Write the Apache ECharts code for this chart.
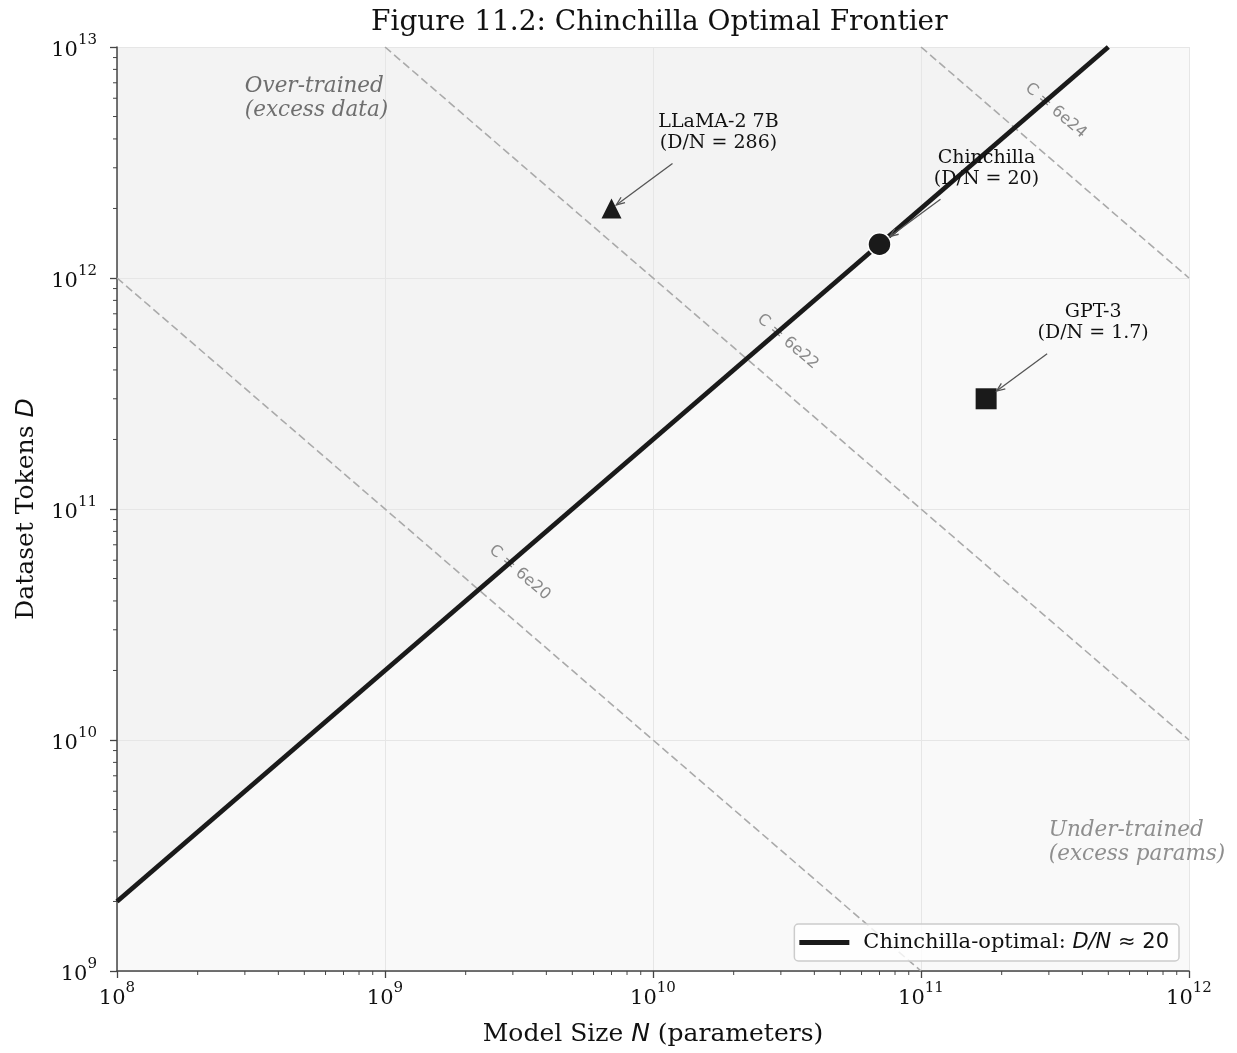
<!DOCTYPE html>
<html>
<head>
<meta charset="utf-8">
<script src="https://cdn.jsdelivr.net/npm/echarts@6/dist/echarts.min.js"></script>
<style>
  html, body { margin: 0; padding: 0; background: #fff; }
  #chart { width: 1237px; height: 1053px; }
</style>
</head>
<body>
<div id="chart"></div>
<script>
// data
const nRange = [1e8, 1e12];
const dRange = [1e9, 1e13];
const optimalRatio = 20;
const computeBudgets = [6e20, 6e22, 6e24];
const computeLabels = ['C = 6e20', 'C = 6e22', 'C = 6e24'];
const modelNames = ['LLaMA-2 7B', 'Chinchilla', 'GPT-3'];
const modelParams = [7e9, 70e9, 175e9];
const modelTokens = [2e12, 1.4e12, 300e9];
const modelRatios = ['286', '20', '1.7'];
const modelSymbols = ['triangle', 'circle', 'rect'];

const SERIF = '"DejaVu Serif", serif';
const SANS = '"DejaVu Sans", sans-serif';

// frontier D = 20 N, clipped to the axes
const frontierEnd = Math.min(nRange[1], dRange[1] / optimalRatio);
const frontier = [[nRange[0], nRange[0] * optimalRatio], [frontierEnd, frontierEnd * optimalRatio]];

// iso-compute lines C = 6ND
const isoLines = computeBudgets.map(c => {
    const k = c / 6;
    const n0 = Math.max(nRange[0], k / dRange[1]);
    const n1 = Math.min(nRange[1], k / dRange[0]);
    return [[n0, k / n0], [n1, k / n1]];
});

const chart = echarts.init(document.getElementById('chart'));

const expLabel = v => '{b|10}{s|' + Math.round(Math.log10(v)) + '}';
const tickRich = {
    b: { fontFamily: SERIF, fontSize: 21, color: '#111', lineHeight: 28, verticalAlign: 'bottom' },
    s: { fontFamily: SERIF, fontSize: 15, color: '#111', lineHeight: 16, verticalAlign: 'top' }
};

const axisCommon = {
    type: 'log',
    logBase: 10,
    axisLine: { show: true, lineStyle: { color: '#444', width: 1.5 } },
    axisTick: { show: true, length: 7, lineStyle: { color: '#444', width: 1.3 } },
    splitLine: { show: true, lineStyle: { color: '#e6e6e6', width: 1 } }
};

const nameRich = {
    a: { fontFamily: SERIF, fontSize: 25, color: '#111' },
    i: { fontFamily: SANS, fontStyle: 'italic', fontSize: 25, color: '#111' }
};

const option = {
    backgroundColor: '#fff',
    animation: false,
    title: {
        text: 'Figure 11.2: Chinchilla Optimal Frontier',
        left: 366,
        top: 4,
        textStyle: { fontFamily: SERIF, fontSize: 28, fontWeight: 'normal', color: '#111' }
    },
    grid: { left: 117, right: 48, top: 47, bottom: 82 },
    legend: {
        data: ['Chinchilla-optimal'],
        right: 58,
        bottom: 92,
        icon: 'rect',
        itemWidth: 50,
        itemHeight: 5,
        padding: [8, 10, 8, 5],
        backgroundColor: 'rgba(255,255,255,0.8)',
        borderColor: '#cccccc',
        borderWidth: 1.5,
        borderRadius: 4,
        formatter: () => '{g|}{a|Chinchilla-optimal: }{i|D/N}{c| ≈ 20}',
        textStyle: {
            rich: {
                g: { width: 9 },
                a: { fontFamily: SERIF, fontSize: 21, color: '#111' },
                i: { fontFamily: SANS, fontStyle: 'italic', fontSize: 21, color: '#111' },
                c: { fontFamily: SANS, fontSize: 21, color: '#111' }
            }
        }
    },
    xAxis: Object.assign({}, axisCommon, {
        min: nRange[0],
        max: nRange[1],
        name: '{a|Model Size }{i|N}{a| (parameters)}',
        nameLocation: 'middle',
        nameGap: 51,
        nameTextStyle: { rich: nameRich },
        axisLabel: { formatter: expLabel, rich: tickRich, margin: 10 }
    }),
    yAxis: Object.assign({}, axisCommon, {
        min: dRange[0],
        max: dRange[1],
        name: '{a|Dataset Tokens }{i|D}',
        nameLocation: 'middle',
        nameGap: 78,
        nameRotate: 90,
        nameTextStyle: { rich: nameRich },
        axisLabel: { formatter: expLabel, rich: tickRich, margin: 20 }
    }),
    series: [
        // shaded regions
        {
            type: 'custom',
            z: -1,
            silent: true,
            data: [[nRange[0], dRange[0]]],
            renderItem: (params, api) => {
                const bl = api.coord([nRange[0], dRange[0]]);
                const tr = api.coord([nRange[1], dRange[1]]);
                const f0 = api.coord(frontier[0]);
                const f1 = api.coord(frontier[1]);
                const tl = api.coord([nRange[0], dRange[1]]);
                return {
                    type: 'group',
                    children: [
                        { type: 'rect', shape: { x: bl[0], y: tr[1], width: tr[0] - bl[0], height: bl[1] - tr[1] }, style: { fill: '#f9f9f9' } },
                        { type: 'polygon', shape: { points: [f0, f1, tl] }, style: { fill: '#f3f3f3' } }
                    ]
                };
            }
        },
        // minor log ticks
        {
            type: 'custom',
            silent: true,
            data: [[nRange[0], dRange[0]]],
            renderItem: (params, api) => {
                const children = [];
                const origin = api.coord([nRange[0], dRange[0]]);
                for (let e = 8; e < 12; e++) {
                    for (let m = 2; m < 10; m++) {
                        const x = api.coord([m * Math.pow(10, e), dRange[0]])[0];
                        children.push({ type: 'line', shape: { x1: x, y1: origin[1], x2: x, y2: origin[1] + 4 }, style: { stroke: '#444', lineWidth: 1 } });
                    }
                }
                for (let e = 9; e < 13; e++) {
                    for (let m = 2; m < 10; m++) {
                        const y = api.coord([nRange[0], m * Math.pow(10, e)])[1];
                        children.push({ type: 'line', shape: { x1: origin[0], y1: y, x2: origin[0] - 4, y2: y }, style: { stroke: '#444', lineWidth: 1 } });
                    }
                }
                return { type: 'group', children: children };
            }
        },
        // iso-compute lines
        ...isoLines.map((pts, i) => ({
            name: computeLabels[i],
            type: 'line',
            data: pts,
            showSymbol: false,
            silent: true,
            z: 3,
            lineStyle: { color: '#aaaaaa', width: 1.6, type: [8, 4] }
        })),
        // iso-compute labels
        {
            type: 'custom',
            silent: true,
            z: 4,
            data: computeBudgets.map(c => {
                const n = Math.sqrt(c / 6 / optimalRatio);
                return [n, n * optimalRatio];
            }),
            renderItem: (params, api) => {
                const i = params.dataIndex;
                const p = api.coord([api.value(0), api.value(1)]);
                const k = computeBudgets[i] / 6;
                const a = api.coord([nRange[0] * 10, k / (nRange[0] * 10)]);
                const b = api.coord([nRange[0] * 100, k / (nRange[0] * 100)]);
                const ang = Math.atan2(b[1] - a[1], b[0] - a[0]);
                return {
                    type: 'text',
                    x: p[0] + 41,
                    y: p[1] - 17,
                    rotation: -ang,
                    style: {
                        text: computeLabels[i],
                        fill: '#8a8a8a',
                        font: '16px ' + SANS,
                        align: 'center',
                        verticalAlign: 'middle'
                    }
                };
            }
        },
        // frontier
        {
            name: 'Chinchilla-optimal',
            type: 'line',
            data: frontier,
            showSymbol: false,
            z: 5,
            lineStyle: { color: '#1a1a1a', width: 4.8 },
            itemStyle: { color: '#1a1a1a' }
        },
        // models
        {
            type: 'scatter',
            z: 6,
            data: modelNames.map((n, i) => ({
                name: n,
                value: [modelParams[i], modelTokens[i]],
                symbol: modelSymbols[i],
                symbolSize: modelSymbols[i] === 'circle' ? 23 : (modelSymbols[i] === 'rect' ? 21 : 20),
                itemStyle: {
                    color: '#1a1a1a',
                    opacity: 1,
                    borderColor: modelSymbols[i] === 'circle' ? '#fff' : '#1a1a1a',
                    borderWidth: modelSymbols[i] === 'circle' ? 1.5 : 0
                }
            }))
        },
        // annotations
        {
            type: 'custom',
            silent: true,
            z: 7,
            data: modelNames.map((n, i) => [modelParams[i], modelTokens[i]]),
            renderItem: (params, api) => {
                const i = params.dataIndex;
                const p = api.coord([api.value(0), api.value(1)]);
                const cx = p[0] + 107, cy = p[1] - 76;
                const sx = cx - 46, sy = cy + 31;
                const shrink = modelSymbols[i] === 'triangle' ? 6 : 13;
                const dx = p[0] - sx, dy = p[1] - sy;
                const len = Math.sqrt(dx * dx + dy * dy);
                const ux = dx / len, uy = dy / len;
                const ex = p[0] - ux * shrink, ey = p[1] - uy * shrink;
                const h = 9, w = 0.38;
                const cos = Math.cos(w), sin = Math.sin(w);
                const h1 = [ex - h * (ux * cos - uy * sin), ey - h * (uy * cos + ux * sin)];
                const h2 = [ex - h * (ux * cos + uy * sin), ey - h * (uy * cos - ux * sin)];
                return {
                    type: 'group',
                    children: [
                        { type: 'line', shape: { x1: sx, y1: sy, x2: ex, y2: ey }, style: { stroke: '#555', lineWidth: 1.3 } },
                        { type: 'polyline', shape: { points: [h1, [ex, ey], h2] }, style: { stroke: '#555', lineWidth: 1.3, fill: null } },
                        {
                            type: 'text',
                            x: cx,
                            y: cy,
                            style: {
                                text: modelNames[i] + '\n(D/N = ' + modelRatios[i] + ')',
                                font: '19px ' + SERIF,
                                fill: '#111',
                                align: 'center',
                                verticalAlign: 'middle',
                                lineHeight: 21
                            }
                        }
                    ]
                };
            }
        },
        // region notes
        {
            type: 'custom',
            silent: true,
            z: 7,
            data: [[3e8, 6e12], [3e11, 3.6e9]],
            renderItem: (params, api) => {
                const p = api.coord([api.value(0), api.value(1)]);
                const over = params.dataIndex === 0;
                return {
                    type: 'text',
                    x: p[0],
                    y: p[1],
                    style: {
                        text: over ? 'Over-trained\n(excess data)' : 'Under-trained\n(excess params)',
                        font: 'italic 21.5px ' + SERIF,
                        fill: over ? '#6e6e6e' : '#8e8e8e',
                        align: 'left',
                        verticalAlign: 'middle',
                        lineHeight: 24
                    }
                };
            }
        }
    ]
};

chart.setOption(option);
</script>
</body>
</html>
